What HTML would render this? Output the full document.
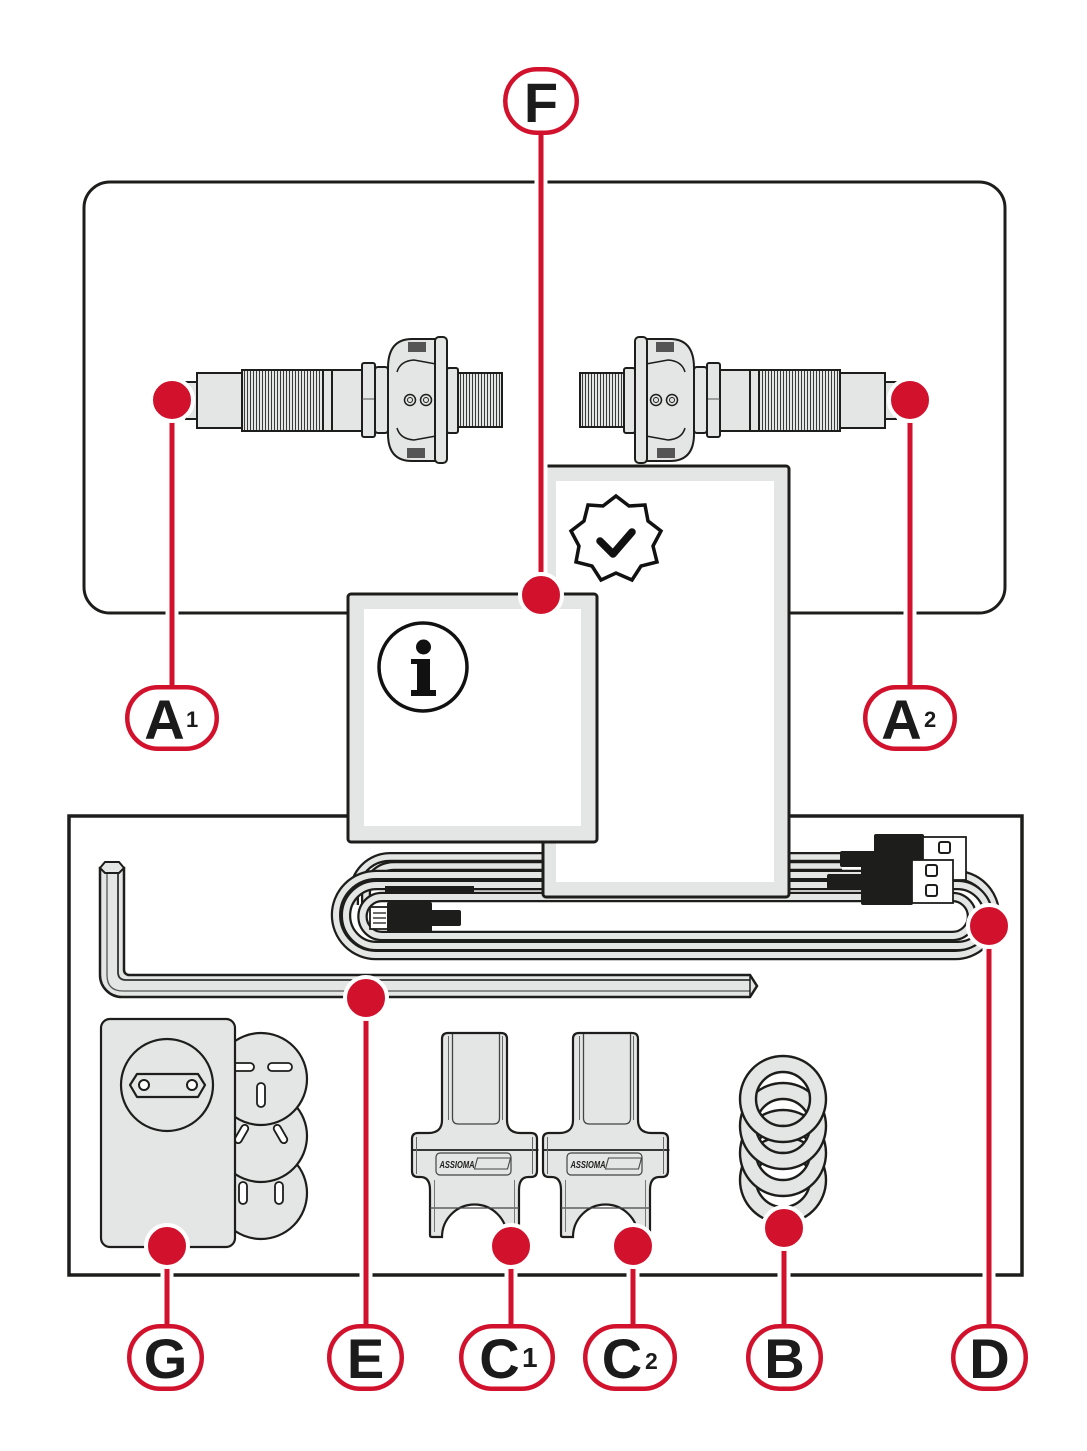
<!DOCTYPE html>
<html>
<head>
<meta charset="utf-8">
<style>
  html,body{margin:0;padding:0;background:#fff;}
  body{width:1087px;height:1451px;overflow:hidden;}
  svg{display:block;}
  .lbl{font-family:"Liberation Sans",Arial,sans-serif;font-weight:bold;fill:#1b1b1b;}
</style>
</head>
<body>
<svg width="1087" height="1451" viewBox="0 0 1087 1451" xmlns="http://www.w3.org/2000/svg">
  <defs>
    <pattern id="thr" width="3" height="10" patternUnits="userSpaceOnUse">
      <rect width="3" height="10" fill="#e4e5e5"/>
      <line x1="1.5" y1="0" x2="1.5" y2="10" stroke="#3a3a3a" stroke-width="1"/>
    </pattern>
    <g id="pedal">
      <rect x="186" y="382" width="12" height="37" fill="#e4e5e5" stroke="#1d1d1b" stroke-width="2"/>
      <rect x="197" y="373" width="45" height="55" fill="#e4e5e5" stroke="#1d1d1b" stroke-width="2"/>
      <rect x="242" y="370" width="81" height="61" fill="url(#thr)" stroke="#1d1d1b" stroke-width="2"/>
      <rect x="323" y="370" width="9" height="61" fill="#e4e5e5" stroke="#1d1d1b" stroke-width="2"/>
      <rect x="332" y="370" width="30" height="61" fill="#e4e5e5" stroke="#1d1d1b" stroke-width="2"/>
      <rect x="362" y="363" width="13" height="74" rx="2" fill="#e4e5e5" stroke="#1d1d1b" stroke-width="2"/>
      <line x1="362" y1="399" x2="375" y2="399" stroke="#555" stroke-width="1"/>
      <rect x="375" y="367" width="13" height="66" rx="3" fill="#e4e5e5" stroke="#1d1d1b" stroke-width="2"/>
      <path d="M388,434 L388,368 Q388,339 412,339 L436,339 L436,461 L412,461 Q388,461 388,434 Z" fill="#e4e5e5" stroke="#1d1d1b" stroke-width="2"/>
      <path d="M397,372 Q400,361 414,360 L436,364 M397,428 Q400,439 414,440 L436,436" fill="none" stroke="#1d1d1b" stroke-width="1.5"/>
      <rect x="408" y="342" width="18" height="10" fill="#555"/>
      <rect x="407" y="448" width="18" height="10" fill="#555"/>
      <rect x="435" y="337" width="12" height="126" rx="4" fill="#e4e5e5" stroke="#1d1d1b" stroke-width="2"/>
      <circle cx="410" cy="400" r="5.5" fill="none" stroke="#1d1d1b" stroke-width="1.5"/>
      <circle cx="410" cy="400" r="2.5" fill="none" stroke="#1d1d1b" stroke-width="1"/>
      <circle cx="426" cy="400" r="5.5" fill="none" stroke="#1d1d1b" stroke-width="1.5"/>
      <circle cx="426" cy="400" r="2.5" fill="none" stroke="#1d1d1b" stroke-width="1"/>
      <rect x="447" y="368" width="11" height="65" rx="2" fill="#e4e5e5" stroke="#1d1d1b" stroke-width="2"/>
      <rect x="458" y="373" width="44" height="54" fill="url(#thr)" stroke="#1d1d1b" stroke-width="2"/>
    </g>
    <g id="clip">
      <path d="M-26.5,1033 H26.5 Q32.5,1033 32.5,1039 V1120 Q32.5,1133 46,1133 H56.5 Q62.5,1133 62.5,1139 V1171 Q62.5,1177 56.5,1177 H54 Q44.5,1177 44.5,1190 V1235 Q44.5,1237 42.5,1237 H32.5 A32.5,32.5 0 1 0 -32.5,1237 H-42.5 Q-44.5,1237 -44.5,1235 V1190 Q-44.5,1177 -54,1177 H-56.5 Q-62.5,1177 -62.5,1171 V1139 Q-62.5,1133 -56.5,1133 H-46 Q-32.5,1133 -32.5,1120 V1039 Q-32.5,1033 -26.5,1033 Z" fill="#e4e5e5" stroke="#1d1d1b" stroke-width="2.2"/>
      <path d="M-22,1034 V1118 Q-22,1124 -16,1124 H19 Q25,1124 25,1118 V1034" fill="none" stroke="#444" stroke-width="1.3"/>
      <line x1="-26" y1="1036" x2="-26" y2="1120" stroke="#666" stroke-width="1"/>
      <line x1="28" y1="1036" x2="28" y2="1120" stroke="#666" stroke-width="1"/>
      <line x1="-62.5" y1="1150" x2="64" y2="1150" stroke="#1d1d1b" stroke-width="1.8"/>
      <line x1="-44.5" y1="1208" x2="44.5" y2="1208" stroke="#444" stroke-width="1.2"/>
      <line x1="-58" y1="1137" x2="-58" y2="1174" stroke="#666" stroke-width="1"/>
      <line x1="58" y1="1137" x2="58" y2="1174" stroke="#666" stroke-width="1"/>
      <line x1="-40" y1="1180" x2="-40" y2="1232" stroke="#777" stroke-width="1"/>
      <line x1="40" y1="1180" x2="40" y2="1232" stroke="#777" stroke-width="1"/>
      <rect x="-38.5" y="1153" width="75" height="22" rx="4" fill="none" stroke="#444" stroke-width="1.2"/>
      <text x="-35" y="1168" font-family="Liberation Sans, Arial, sans-serif" font-weight="bold" font-style="italic" font-size="10" fill="#1d1d1b" textLength="35" lengthAdjust="spacingAndGlyphs">ASSIOMA</text>
      <polygon points="3,1158 36,1158 33,1169 0,1169" fill="none" stroke="#444" stroke-width="1.1"/>
    </g>
  </defs>

  <rect x="84" y="182" width="921" height="431" rx="26" fill="#fff" stroke="#1d1d1b" stroke-width="3"/>

  <use href="#pedal"/>
  <use href="#pedal" transform="translate(1082,0) scale(-1,1)"/>

  <rect x="69" y="816" width="953" height="459" fill="#fff" stroke="#1d1d1b" stroke-width="3.5"/>

  <g fill="none">
    <path d="M842,857 H390 A36,36 0 0 0 354,893 V905" stroke="#1d1d1b" stroke-width="10"/>
    <path d="M842,857 H390 A36,36 0 0 0 354,893 V905" stroke="#e4e5e5" stroke-width="5.5"/>
    <path d="M842,866 H394 A28,28 0 0 0 366,894 V905" stroke="#1d1d1b" stroke-width="10"/>
    <path d="M842,866 H394 A28,28 0 0 0 366,894 V905" stroke="#e4e5e5" stroke-width="5.5"/>
  </g>
  <g fill="none">
    <path d="M376,875 H955 A40,40 0 0 1 955,955 H376 A40,40 0 0 1 376,875 Z" stroke="#1d1d1b" stroke-width="10.5"/>
    <path d="M376,875 H955 A40,40 0 0 1 955,955 H376 A40,40 0 0 1 376,875 Z" stroke="#e4e5e5" stroke-width="6"/>
    <path d="M376.5,885 H957.5 A30.5,30.5 0 0 1 957.5,946 H376.5 A30.5,30.5 0 0 1 376.5,885 Z" stroke="#1d1d1b" stroke-width="10.5"/>
    <path d="M376.5,885 H957.5 A30.5,30.5 0 0 1 957.5,946 H376.5 A30.5,30.5 0 0 1 376.5,885 Z" stroke="#e4e5e5" stroke-width="6"/>
    <path d="M382,897 H952.5 A19.5,19.5 0 0 1 952.5,936 H382 A19.5,19.5 0 0 1 382,897 Z" stroke="#1d1d1b" stroke-width="10.5"/>
    <path d="M382,897 H952.5 A19.5,19.5 0 0 1 952.5,936 H382 A19.5,19.5 0 0 1 382,897 Z" stroke="#e4e5e5" stroke-width="6"/>
  </g>
  <rect x="385" y="886" width="89" height="7" fill="#1d1d1b"/>
  <line x1="474" y1="889.5" x2="545" y2="889.5" stroke="#1d1d1b" stroke-width="1.5"/>
  <rect x="370" y="907" width="18" height="22" fill="#fff" stroke="#1d1d1b" stroke-width="1.8"/>
  <line x1="373" y1="913" x2="386" y2="913" stroke="#1d1d1b" stroke-width="1.3"/>
  <line x1="373" y1="918" x2="386" y2="918" stroke="#1d1d1b" stroke-width="1.3"/>
  <line x1="373" y1="923" x2="386" y2="923" stroke="#1d1d1b" stroke-width="1.3"/>
  <rect x="387" y="902" width="45" height="30" rx="2" fill="#1d1d1b"/>
  <rect x="430" y="910" width="31" height="16" rx="2" fill="#1d1d1b"/>

  <rect x="840" y="851" width="36" height="16" rx="2" fill="#1d1d1b"/>
  <rect x="874" y="834" width="50" height="46" rx="2" fill="#1d1d1b"/>
  <rect x="923" y="837" width="43" height="43" fill="#fff" stroke="#1d1d1b" stroke-width="1.8"/>
  <rect x="939" y="842" width="11" height="11" rx="2" fill="#fff" stroke="#1d1d1b" stroke-width="2"/>
  <rect x="827" y="874" width="36" height="15" rx="2" fill="#1d1d1b"/>
  <rect x="861" y="858" width="52" height="47" rx="2" fill="#1d1d1b"/>
  <rect x="912" y="860" width="41" height="43" fill="#fff" stroke="#1d1d1b" stroke-width="1.8"/>
  <rect x="926" y="865" width="11" height="11" rx="2" fill="#fff" stroke="#1d1d1b" stroke-width="2"/>
  <rect x="926" y="885" width="11" height="11" rx="2" fill="#fff" stroke="#1d1d1b" stroke-width="2"/>

  <path d="M100,868 L100,975 A22,22 0 0 0 122,997 L750,997 L757,986 L750,975 L129,975 A5,5 0 0 1 124,970 L124,868 Z" fill="#e4e5e5" stroke="#1d1d1b" stroke-width="2.5"/>
  <path d="M107,872 L107,975 Q107,991 123,991 L750,991" fill="none" stroke="#555" stroke-width="1.3"/>
  <path d="M118,872 L118,972 Q118,980 126,980 L750,980" fill="none" stroke="#333" stroke-width="1.8"/>
  <line x1="750" y1="975" x2="750" y2="997" stroke="#1d1d1b" stroke-width="1.5"/>
  <polygon points="100,868 105,862 119,862 124,868 119,873 105,873" fill="#e4e5e5" stroke="#1d1d1b" stroke-width="2"/>

  <rect x="543" y="466" width="246" height="431" rx="3" fill="#e4e5e5" stroke="#1d1d1b" stroke-width="3"/>
  <rect x="556" y="481" width="218" height="401" fill="#fff"/>
  <polygon points="616,496 629,506 645,505 648,521 661,531 653,546 657,562 641,566 632,580 616,573 601,580 592,566 576,562 579,546 571,531 584,521 588,505 603,506" fill="#fff" stroke="#111" stroke-width="3.5" stroke-linejoin="miter"/>
  <polyline points="600,541 613,554 632,532" fill="none" stroke="#111" stroke-width="7.5" stroke-linecap="round" stroke-linejoin="round"/>

  <rect x="348" y="594" width="249" height="248" rx="3" fill="#e4e5e5" stroke="#1d1d1b" stroke-width="3"/>
  <rect x="364" y="609" width="217" height="217" fill="#fff"/>
  <circle cx="423" cy="667" r="44" fill="#fff" stroke="#111" stroke-width="3.5"/>
  <circle cx="423.5" cy="647" r="7.5" fill="#111"/>
  <rect x="417" y="659" width="13" height="35" fill="#111"/>
  <rect x="411" y="659" width="13" height="5" fill="#111"/>
  <rect x="411" y="690" width="25" height="6" fill="#111"/>

  <circle cx="261" cy="1193" r="46" fill="#e4e5e5" stroke="#1d1d1b" stroke-width="2.2"/>
  <rect x="239" y="1182" width="8" height="22" rx="4" fill="#fff" stroke="#1d1d1b" stroke-width="1.8"/>
  <rect x="275" y="1182" width="8" height="22" rx="4" fill="#fff" stroke="#1d1d1b" stroke-width="1.8"/>
  <circle cx="261" cy="1136" r="46" fill="#e4e5e5" stroke="#1d1d1b" stroke-width="2.2"/>
  <rect x="238" y="1124" width="7" height="20" rx="3.5" fill="#fff" stroke="#1d1d1b" stroke-width="1.8" transform="rotate(30 241.5 1134)"/>
  <rect x="277" y="1124" width="7" height="20" rx="3.5" fill="#fff" stroke="#1d1d1b" stroke-width="1.8" transform="rotate(-30 280.5 1134)"/>
  <circle cx="261" cy="1079" r="46" fill="#e4e5e5" stroke="#1d1d1b" stroke-width="2.2"/>
  <rect x="232" y="1063" width="22" height="8" rx="4" fill="#fff" stroke="#1d1d1b" stroke-width="1.8"/>
  <rect x="268" y="1063" width="24" height="8" rx="4" fill="#fff" stroke="#1d1d1b" stroke-width="1.8"/>
  <rect x="257" y="1083" width="8" height="24" rx="4" fill="#fff" stroke="#1d1d1b" stroke-width="1.8"/>
  <rect x="101" y="1019" width="134" height="228" rx="9" fill="#e4e5e5" stroke="#1d1d1b" stroke-width="2.2"/>
  <circle cx="167" cy="1085" r="46" fill="#e4e5e5" stroke="#1d1d1b" stroke-width="2.2"/>
  <polygon points="130,1085 137,1074 198,1074 205,1085 198,1097 137,1097" fill="#e4e5e5" stroke="#1d1d1b" stroke-width="2.2" stroke-linejoin="round"/>
  <circle cx="144" cy="1085" r="5" fill="#fff" stroke="#1d1d1b" stroke-width="2"/>
  <circle cx="192" cy="1085" r="5" fill="#fff" stroke="#1d1d1b" stroke-width="2"/>

  <use href="#clip" transform="translate(474.5,0)"/>
  <use href="#clip" transform="translate(605.5,0)"/>

  <g fill="#e4e5e5" fill-rule="evenodd" stroke="#1d1d1b" stroke-width="2.4">
    <path d="M740,1180 a43,43 0 1 0 86,0 a43,43 0 1 0 -86,0 Z M756,1180 a27,27 0 1 0 54,0 a27,27 0 1 0 -54,0 Z"/>
    <path d="M740,1153 a43,43 0 1 0 86,0 a43,43 0 1 0 -86,0 Z M756,1153 a27,27 0 1 0 54,0 a27,27 0 1 0 -54,0 Z"/>
    <path d="M740,1126 a43,43 0 1 0 86,0 a43,43 0 1 0 -86,0 Z M756,1126 a27,27 0 1 0 54,0 a27,27 0 1 0 -54,0 Z"/>
    <path d="M740,1099 a43,43 0 1 0 86,0 a43,43 0 1 0 -86,0 Z M756,1099 a27,27 0 1 0 54,0 a27,27 0 1 0 -54,0 Z"/>
  </g>

  <g stroke="#fff" stroke-width="13" fill="none">
    <line x1="541" y1="134" x2="541" y2="590"/>
    <line x1="172" y1="400" x2="172" y2="686"/>
    <line x1="910" y1="400" x2="910" y2="686"/>
    <line x1="167" y1="1246" x2="167" y2="1324"/>
    <line x1="366" y1="998" x2="366" y2="1324"/>
    <line x1="511" y1="1246" x2="511" y2="1324"/>
    <line x1="633" y1="1246" x2="633" y2="1324"/>
    <line x1="784" y1="1228" x2="784" y2="1324"/>
    <line x1="989" y1="926" x2="989" y2="1324"/>
  </g>
  <g stroke="#d2112d" stroke-width="5" fill="none">
    <line x1="541" y1="134" x2="541" y2="596"/>
    <line x1="172" y1="400" x2="172" y2="687"/>
    <line x1="910" y1="400" x2="910" y2="687"/>
    <line x1="167" y1="1246" x2="167" y2="1326"/>
    <line x1="366" y1="998" x2="366" y2="1326"/>
    <line x1="511" y1="1246" x2="511" y2="1326"/>
    <line x1="633" y1="1246" x2="633" y2="1326"/>
    <line x1="784" y1="1228" x2="784" y2="1326"/>
    <line x1="989" y1="926" x2="989" y2="1326"/>
  </g>
  <g fill="#d2112d" stroke="#fff" stroke-width="4">
    <circle cx="172" cy="400" r="21"/>
    <circle cx="910" cy="400" r="21"/>
    <circle cx="541" cy="595" r="21"/>
    <circle cx="989" cy="926" r="21"/>
    <circle cx="366" cy="998" r="21"/>
    <circle cx="167" cy="1246" r="21"/>
    <circle cx="511" cy="1246" r="21"/>
    <circle cx="633" cy="1246" r="21"/>
    <circle cx="784" cy="1228" r="21"/>
  </g>

  <g fill="#fff" stroke="#d2112d" stroke-width="4.5">
    <rect x="505.25" y="69.25" width="71.5" height="63.5" rx="31.75"/>
    <rect x="127.25" y="687.25" width="89.5" height="61.5" rx="30.75"/>
    <rect x="865.25" y="687.25" width="89.5" height="61.5" rx="30.75"/>
    <rect x="129.25" y="1326.25" width="72.5" height="62.5" rx="31.25"/>
    <rect x="329.25" y="1326.25" width="72.5" height="62.5" rx="31.25"/>
    <rect x="461.25" y="1326.25" width="91.5" height="62.5" rx="31.25"/>
    <rect x="585.25" y="1326.25" width="89.5" height="62.5" rx="31.25"/>
    <rect x="748.25" y="1326.25" width="72.5" height="62.5" rx="31.25"/>
    <rect x="953.25" y="1326.25" width="72.5" height="62.5" rx="31.25"/>
  </g>

  <g class="lbl" font-size="56">
    <text x="541" y="122" text-anchor="middle">F</text>
    <text x="164.5" y="739" text-anchor="middle">A</text>
    <text x="901.5" y="739" text-anchor="middle">A</text>
    <text x="165.5" y="1378" text-anchor="middle">G</text>
    <text x="365.5" y="1378" text-anchor="middle">E</text>
    <text x="499.5" y="1378" text-anchor="middle">C</text>
    <text x="622" y="1378" text-anchor="middle">C</text>
    <text x="784.5" y="1378" text-anchor="middle">B</text>
    <text x="989.5" y="1378" text-anchor="middle">D</text>
  </g>
  <g class="lbl" font-size="22">
    <text x="186" y="727">1</text>
    <text x="924" y="727">2</text>
    <text x="522" y="1367" font-size="28">1</text>
    <text x="645" y="1369" font-size="23">2</text>
  </g>
</svg>
</body>
</html>
